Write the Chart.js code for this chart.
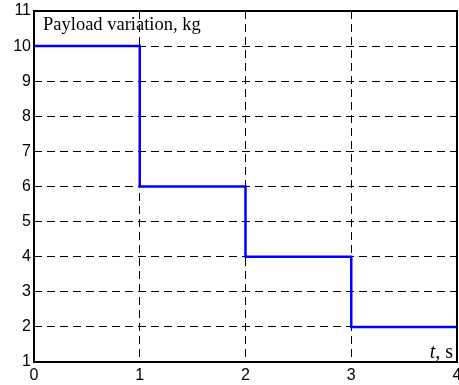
<!DOCTYPE html>
<html>
<head>
<meta charset="utf-8">
<script src="https://cdn.jsdelivr.net/npm/chart.js@4"></script>
<style>
  html, body { margin: 0; padding: 0; background: #fff; }
  #wrap { width: 459px; height: 385px; position: relative; }
</style>
</head>
<body>
<div id="wrap"><canvas id="chart"></canvas></div>
<script>
const timeSteps = [0, 1, 2, 3, 4];
const payloadKg = [10, 6, 4, 2, 2];
const xTicks = [0, 1, 2, 3, 4];
const yTicks = [1, 2, 3, 4, 5, 6, 7, 8, 9, 10, 11];
const chartTitle = 'Payload variation, kg';

const points = timeSteps.map((t, i) => ({ x: t, y: payloadKg[i] }));

// frame + texts drawn inside the plot area
const framePlugin = {
    id: 'frame',
    afterDraw(chart) {
        const { ctx, chartArea } = chart;
        ctx.save();
        ctx.strokeStyle = '#000';
        ctx.lineWidth = 2;
        ctx.strokeRect(chartArea.left, chartArea.top, chartArea.right - chartArea.left, chartArea.bottom - chartArea.top);

        ctx.fillStyle = '#000';
        ctx.textBaseline = 'alphabetic';
        ctx.font = '18.5px "Liberation Serif"';
        ctx.fillText(chartTitle, chartArea.left + 9, chartArea.top + 19);

        ctx.textAlign = 'right';
        ctx.font = '20px "Liberation Serif"';
        const sW = ctx.measureText(', s').width;
        ctx.fillText(', s', chartArea.right - 4, chartArea.bottom - 4);
        ctx.font = 'italic 20px "Liberation Serif"';
        ctx.fillText('t', chartArea.right - 4 - sW, chartArea.bottom - 4);
        ctx.restore();
    }
};

new Chart(document.getElementById('chart'), {
    type: 'line',
    data: {
        datasets: [{
            data: points,
            borderColor: '#0000ff',
            borderWidth: 2.5,
            stepped: 'before',
            pointRadius: 0,
            fill: false
        }]
    },
    options: {
        responsive: true,
        maintainAspectRatio: false,
        animation: false,
        layout: { padding: { top: 11, right: 2, left: 0, bottom: 0 } },
        plugins: {
            legend: { display: false },
            tooltip: { enabled: false }
        },
        scales: {
            x: {
                type: 'linear',
                min: 0,
                max: 4,
                afterBuildTicks: (axis) => { axis.ticks = xTicks.map(v => ({ value: v })); },
                afterFit: (axis) => {
                    axis.height = 23;
                    axis.paddingLeft = 0;
                    axis.paddingRight = 0;
                },
                grid: {
                    color: '#000',
                    lineWidth: 1,
                    drawTicks: false
                },
                border: { display: false, dash: [8, 5] },
                ticks: {
                    color: '#000',
                    font: { family: '"Liberation Sans"', size: 16 },
                    padding: 4,
                    maxRotation: 0
                }
            },
            y: {
                type: 'linear',
                min: 1,
                max: 11,
                afterBuildTicks: (axis) => { axis.ticks = yTicks.map(v => ({ value: v })); },
                afterFit: (axis) => {
                    axis.width = 34;
                    axis.paddingTop = 0;
                    axis.paddingBottom = 0;
                },
                grid: {
                    color: '#000',
                    lineWidth: 1,
                    drawTicks: false
                },
                border: { display: false, dash: [8, 5] },
                ticks: {
                    color: '#000',
                    font: { family: '"Liberation Sans"', size: 16 },
                    padding: 3
                }
            }
        }
    },
    plugins: [framePlugin]
});
</script>
</body>
</html>
